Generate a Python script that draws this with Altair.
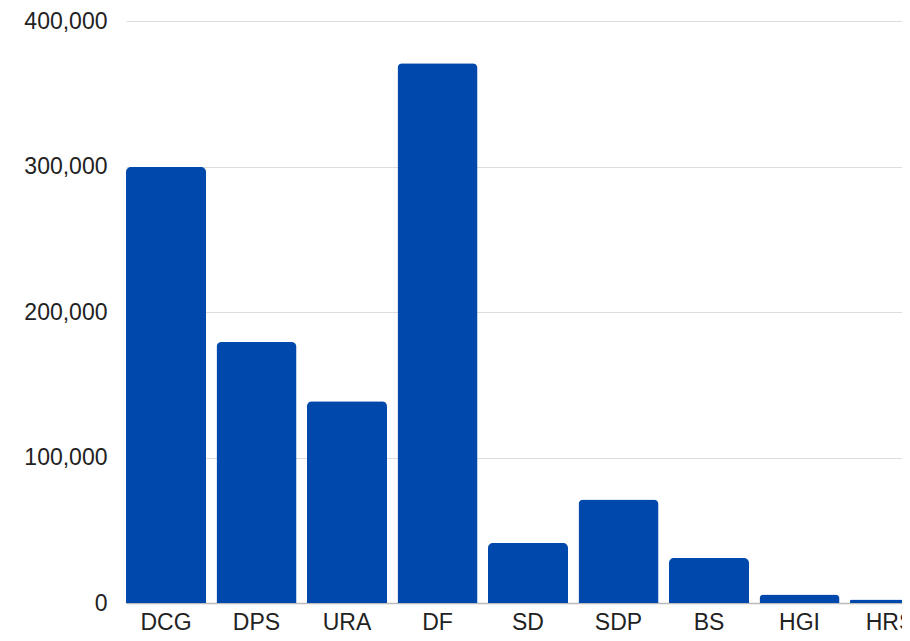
import altair as alt
import pandas as pd

parties = ["DCG", "DPS", "URA", "DF", "SD", "SDP", "BS", "HGI", "HRS"]
votes = [299600, 179400, 138600, 371000, 41300, 71100, 31000, 5800, 2400]
y_ticks = [0, 100000, 200000, 300000, 400000]

df = pd.DataFrame({"party": parties, "votes": votes})

chart = alt.Chart(df).mark_bar(
    color="#0048ab",
    cornerRadiusTopLeft=5,
    cornerRadiusTopRight=5,
).encode(
    x=alt.X(
        "party:N",
        sort=parties,
        title=None,
        scale=alt.Scale(paddingInner=0.116, paddingOuter=0, range=[0, 804]),
        axis=alt.Axis(
            labelAngle=0,
            labelFont="Liberation Sans",
            labelFontSize=23,
            labelColor="#222222",
            labelPadding=8,
            ticks=False,
            domain=True,
            domainColor="#bbbbbb",
            domainWidth=1.5,
            grid=False,
            labelBound=False,
            labelOverlap=False,
        ),
    ),
    y=alt.Y(
        "votes:Q",
        title=None,
        scale=alt.Scale(domain=[0, 400000], nice=False),
        axis=alt.Axis(
            values=y_ticks,
            format=",d",
            labelFont="Liberation Sans",
            labelFontSize=23,
            labelColor="#222222",
            labelPadding=19,
            ticks=False,
            domain=False,
            grid=True,
            gridColor="#dddddd",
            gridWidth=1,
        ),
    ),
).properties(
    width=776,
    height=582,
    autosize=alt.AutoSizeParams(type="none"),
    padding={"left": 118, "top": 13, "right": 0, "bottom": 30},
).configure_view(stroke=None)

chart.save("out.html", embed_options={"renderer": "svg", "actions": False})
